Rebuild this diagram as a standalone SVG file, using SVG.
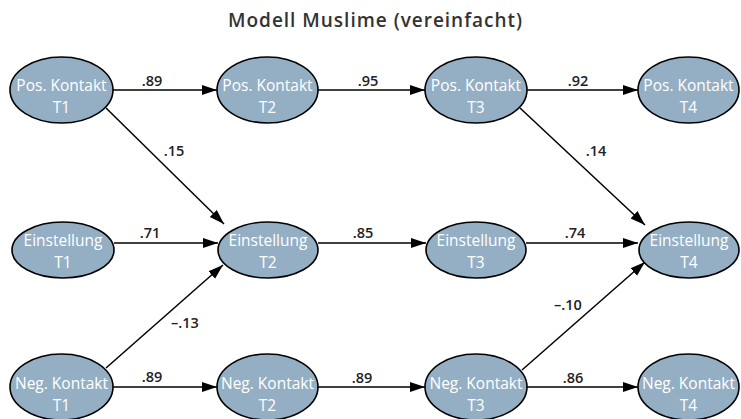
<svg xmlns="http://www.w3.org/2000/svg" width="741" height="419" viewBox="0 0 741 419">
<style>
.n ellipse{fill:#94afc4;stroke:#000;stroke-width:1.6}
.n text{fill:#fff;font-family:"Open Sans","Liberation Sans",sans-serif;font-size:15.5px;text-anchor:middle;dominant-baseline:central}
.c line{stroke:#000;stroke-width:1.5;marker-end:url(#ah)}
.lbl{fill:#222;font-family:"Open Sans","Liberation Sans",sans-serif;font-size:14.5px;font-weight:600;text-anchor:middle;dominant-baseline:central}
.title{fill:#333;font-family:"Open Sans","Liberation Sans",sans-serif;font-size:19px;font-weight:600;text-anchor:middle;dominant-baseline:central}
</style>
<defs>
<marker id="ah" markerUnits="userSpaceOnUse" markerWidth="16" markerHeight="12" refX="15" refY="5" orient="auto">
<path d="M0,0 L15,5 L0,10 z" fill="#000"/>
</marker>
</defs>
<rect width="741" height="419" fill="#fff"/>
<text class="title" x="375" y="20" textLength="294">Modell Muslime (vereinfacht)</text>

<g id="connectors" class="c">
<line x1="113" y1="90" x2="217" y2="90"/>
<line x1="318" y1="90" x2="425" y2="90"/>
<line x1="527" y1="90" x2="638" y2="90"/>
<line x1="114" y1="243" x2="218" y2="243"/>
<line x1="318" y1="243" x2="426" y2="243"/>
<line x1="526" y1="243" x2="638" y2="243"/>
<line x1="113" y1="387" x2="217" y2="387"/>
<line x1="318" y1="387" x2="425" y2="387"/>
<line x1="527" y1="387" x2="638" y2="387"/>
<line x1="106" y1="108" x2="224" y2="224"/>
<line x1="520" y1="108" x2="645" y2="225"/>
<line x1="106" y1="368" x2="223" y2="265"/>
<line x1="522" y1="370" x2="645" y2="262"/>
</g>

<g id="labels">
<text class="lbl" x="152" y="80">.89</text>
<text class="lbl" x="368" y="80">.95</text>
<text class="lbl" x="578" y="80">.92</text>
<text class="lbl" x="150" y="232">.71</text>
<text class="lbl" x="363" y="232">.85</text>
<text class="lbl" x="575" y="232">.74</text>
<text class="lbl" x="152" y="376">.89</text>
<text class="lbl" x="362" y="377">.89</text>
<text class="lbl" x="573" y="377">.86</text>
<text class="lbl" x="174" y="150">.15</text>
<text class="lbl" x="596" y="150">.14</text>
<text class="lbl" x="185" y="322">–.13</text>
<text class="lbl" x="568" y="304">–.10</text>
</g>

<g id="pos1" class="n"><ellipse cx="61.5" cy="90" rx="51.5" ry="33"/><text x="61.5" y="85">Pos. Kontakt</text><text x="61.5" y="107">T1</text></g>
<g id="pos2" class="n"><ellipse cx="267.5" cy="90" rx="50.5" ry="33"/><text x="267.5" y="85">Pos. Kontakt</text><text x="267.5" y="107">T2</text></g>
<g id="pos3" class="n"><ellipse cx="476" cy="90" rx="51" ry="33"/><text x="476" y="85">Pos. Kontakt</text><text x="476" y="107">T3</text></g>
<g id="pos4" class="n"><ellipse cx="688.5" cy="90" rx="50.5" ry="33"/><text x="688.5" y="85">Pos. Kontakt</text><text x="688.5" y="107">T4</text></g>

<g id="ein1" class="n"><ellipse cx="63" cy="250" rx="51" ry="28"/><text x="63" y="240">Einstellung</text><text x="63" y="262">T1</text></g>
<g id="ein2" class="n"><ellipse cx="268" cy="250" rx="50" ry="28"/><text x="268" y="240">Einstellung</text><text x="268" y="262">T2</text></g>
<g id="ein3" class="n"><ellipse cx="476" cy="250" rx="50" ry="28"/><text x="476" y="240">Einstellung</text><text x="476" y="262">T3</text></g>
<g id="ein4" class="n"><ellipse cx="689" cy="250" rx="50" ry="28"/><text x="689" y="240">Einstellung</text><text x="689" y="262">T4</text></g>

<g id="neg1" class="n"><ellipse cx="61.5" cy="387" rx="51.5" ry="33"/><text x="61.5" y="383">Neg. Kontakt</text><text x="61.5" y="405">T1</text></g>
<g id="neg2" class="n"><ellipse cx="267.5" cy="387" rx="50.5" ry="33"/><text x="267.5" y="383">Neg. Kontakt</text><text x="267.5" y="405">T2</text></g>
<g id="neg3" class="n"><ellipse cx="476" cy="387" rx="51" ry="33"/><text x="476" y="383">Neg. Kontakt</text><text x="476" y="405">T3</text></g>
<g id="neg4" class="n"><ellipse cx="688.5" cy="387" rx="50.5" ry="33"/><text x="688.5" y="383">Neg. Kontakt</text><text x="688.5" y="405">T4</text></g>
</svg>
